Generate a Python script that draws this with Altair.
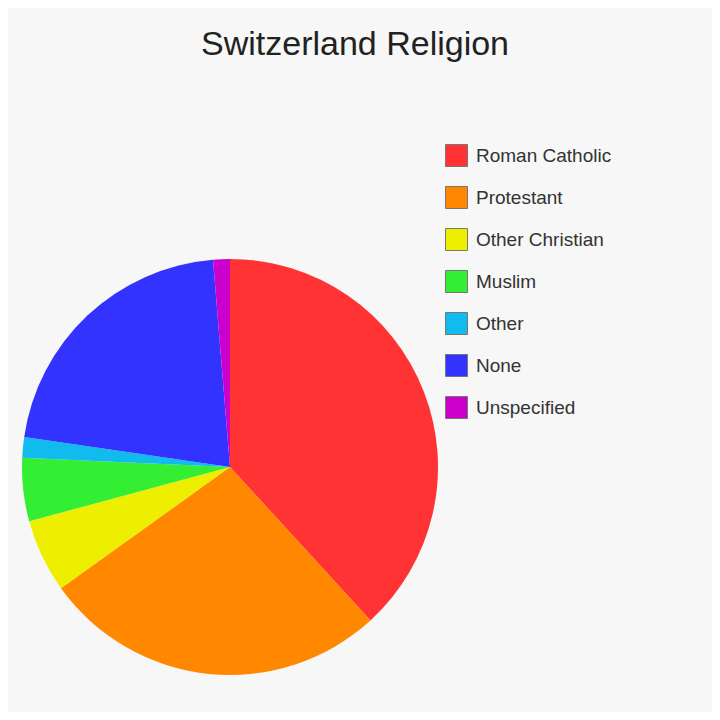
import altair as alt
import pandas as pd

religions = ["Roman Catholic", "Protestant", "Other Christian", "Muslim", "Other", "None", "Unspecified"]
shares = [38.2, 26.9, 5.7, 4.9, 1.6, 21.4, 1.3]
colors = ["#FF3333", "#FF8800", "#EEEE00", "#33EE33", "#11BBEE", "#3333FF", "#CC00CC"]

df = pd.DataFrame({"religion": religions, "share": shares, "order": list(range(len(religions)))})

chart = alt.Chart(df).mark_arc(radius=208, stroke=None).encode(
    theta=alt.Theta("share:Q", stack=True),
    order=alt.Order("order:Q"),
    color=alt.Color(
        "religion:N",
        scale=alt.Scale(domain=religions, range=colors),
        legend=alt.Legend(
            title=None,
            orient="none",
            legendX=437,
            legendY=66,
            symbolType="square",
            symbolSize=484,
            symbolStrokeColor="#777777",
            symbolStrokeWidth=1,
            labelFontSize=19,
            labelFont="Liberation Sans",
            labelColor="#333333",
            labelOffset=8,
            rowPadding=15,
            labelLimit=300,
        ),
    ),
    x=alt.value(222),
    y=alt.value(389),
).properties(
    width=704,
    height=634,
    background="#F7F7F7",
    padding={"left": 0, "top": 70, "right": 0, "bottom": 0},
    autosize=alt.AutoSizeParams(type="none"),
    title=alt.TitleParams(
        "Switzerland Religion",
        font="Liberation Sans",
        fontSize=34,
        fontWeight="normal",
        color="#222222",
        anchor="middle",
        dx=-5,
        offset=16,
    ),
).configure_view(stroke=None)

chart.save("out.html", embed_options={"renderer": "svg", "actions": False})
